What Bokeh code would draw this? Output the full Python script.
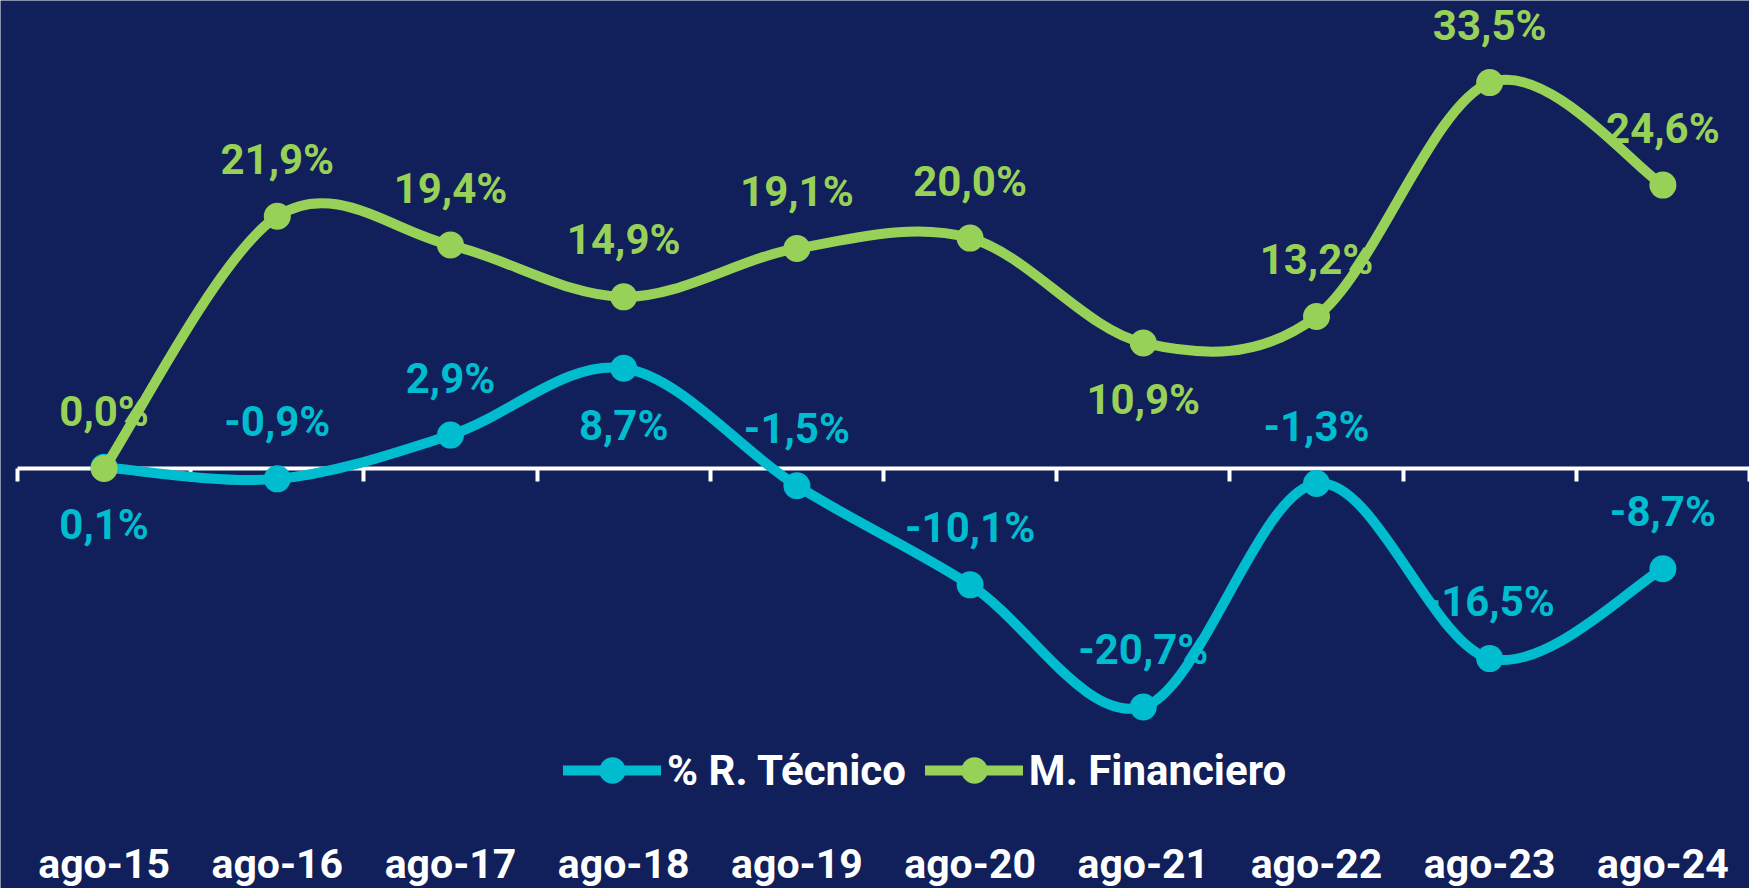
import numpy as np
from bokeh.plotting import figure
from bokeh.models import FixedTicker, LinearAxis, Legend, LegendItem, ColumnDataSource, Range1d
from bokeh.core.properties import value
from bokeh.embed import file_html
from bokeh.resources import INLINE

# ---------------- data ----------------
categories = ["ago-15", "ago-16", "ago-17", "ago-18", "ago-19",
              "ago-20", "ago-21", "ago-22", "ago-23", "ago-24"]
tecnico = [0.1, -0.9, 2.9, 8.7, -1.5, -10.1, -20.7, -1.3, -16.5, -8.7]
financiero = [0.0, 21.9, 19.4, 14.9, 19.1, 20.0, 10.9, 13.2, 33.5, 24.6]
series_names = ["% R. Técnico", "M. Financiero"]

# label placement (style)
tecnico_side = ["below", "above", "above", "below", "above",
                "above", "above", "above", "above", "above"]
financiero_side = ["above", "above", "above", "above", "above",
                   "above", "below", "above", "above", "above"]

BG = "#111F5A"
CYAN = "#00BCCF"
GREEN = "#98D158"
FONT = value("Roboto")

n = len(categories)
xs = list(range(n))

W, H = 1749, 888
left_pad = 17                    # px before first category band
band = (W - left_pad) / n        # px per category
px_per_unit = 11.52
zero_px = 468                    # px from top where value 0 sits

x_start = -0.5 - left_pad / band
y_end = zero_px / px_per_unit
y_start = -(H - zero_px) / px_per_unit
label_axis_at = -(828 - zero_px) / px_per_unit

p = figure(width=W, height=H, output_backend="svg", toolbar_location=None,
           x_range=Range1d(x_start, n - 0.5), y_range=Range1d(y_start, y_end),
           min_border=0)
p.background_fill_color = BG
p.border_fill_color = BG
p.outline_line_color = None
p.grid.visible = False
p.yaxis.visible = False

# category labels axis
ax = p.xaxis[0]
ax.fixed_location = label_axis_at
ax.ticker = FixedTicker(ticks=xs)
ax.major_label_overrides = {i: c for i, c in enumerate(categories)}
ax.axis_line_color = None
ax.major_tick_line_color = None
ax.minor_tick_line_color = None
ax.major_tick_out = 0
ax.major_tick_in = 0
ax.major_label_standoff = 11
ax.major_label_text_font = "Roboto"
ax.major_label_text_font_style = "bold"
ax.major_label_text_font_size = "41px"
ax.major_label_text_color = "white"

# zero axis with boundary ticks
zero_ax = LinearAxis(fixed_location=0, bounds=(-0.5, n - 0.5),
                     ticker=FixedTicker(ticks=[i - 0.5 for i in range(n + 1)]),
                     axis_line_color="white", axis_line_width=4,
                     major_tick_line_color="white", major_tick_line_width=4,
                     major_tick_out=13, major_tick_in=0,
                     minor_tick_line_color=None, major_label_text_color=None,
                     major_label_text_font_size="1px", level="underlay")
p.add_layout(zero_ax, "below")


def smooth_segments(x, y):
    pts = list(zip(x, y))
    m = len(pts)
    out = dict(x0=[], y0=[], x1=[], y1=[], cx0=[], cy0=[], cx1=[], cy1=[])
    for i in range(m - 1):
        p0 = pts[i - 1] if i > 0 else pts[i]
        p1 = pts[i]
        p2 = pts[i + 1]
        p3 = pts[i + 2] if i + 2 < m else pts[i + 1]
        out["x0"].append(p1[0]); out["y0"].append(p1[1])
        out["x1"].append(p2[0]); out["y1"].append(p2[1])
        out["cx0"].append(p1[0] + (p2[0] - p0[0]) / 6)
        out["cy0"].append(p1[1] + (p2[1] - p0[1]) / 6)
        out["cx1"].append(p2[0] - (p3[0] - p1[0]) / 6)
        out["cy1"].append(p2[1] - (p3[1] - p1[1]) / 6)
    return ColumnDataSource(out)


def fmt(v):
    return f"{v:.1f}".replace(".", ",") + "%"


items = []
for name, vals, side, col in [(series_names[0], tecnico, tecnico_side, CYAN),
                              (series_names[1], financiero, financiero_side, GREEN)]:
    seg = smooth_segments(xs, vals)
    r_line = p.bezier(x0="x0", y0="y0", x1="x1", y1="y1", cx0="cx0", cy0="cy0",
                      cx1="cx1", cy1="cy1", source=seg, line_color=col, line_width=10,
                      line_cap="round")
    r_pt = p.scatter(xs, vals, size=27, fill_color=col, line_color=col, line_width=0)
    items.append(LegendItem(label=name, renderers=[r_line, r_pt]))
    src = ColumnDataSource(dict(x=xs, y=vals, t=[fmt(v) for v in vals],
                                off=[-57 if s == "above" else 57 for s in side]))
    p.text(x="x", y="y", text="t", y_offset="off", source=src, text_color=col,
           text_font=FONT, text_font_style="bold", text_font_size="42px",
           text_align="center", text_baseline="middle")

legend = Legend(items=items, orientation="horizontal", location=(563, 85),
                glyph_width=98, glyph_height=66, label_standoff=6, spacing=19,
                padding=0, margin=0, background_fill_alpha=0, border_line_color=None,
                label_text_font="Roboto", label_text_font_style="bold",
                label_text_font_size="42px", label_text_color="white")
p.add_layout(legend, "center")

open("out.html", "w").write(file_html(p, INLINE))
